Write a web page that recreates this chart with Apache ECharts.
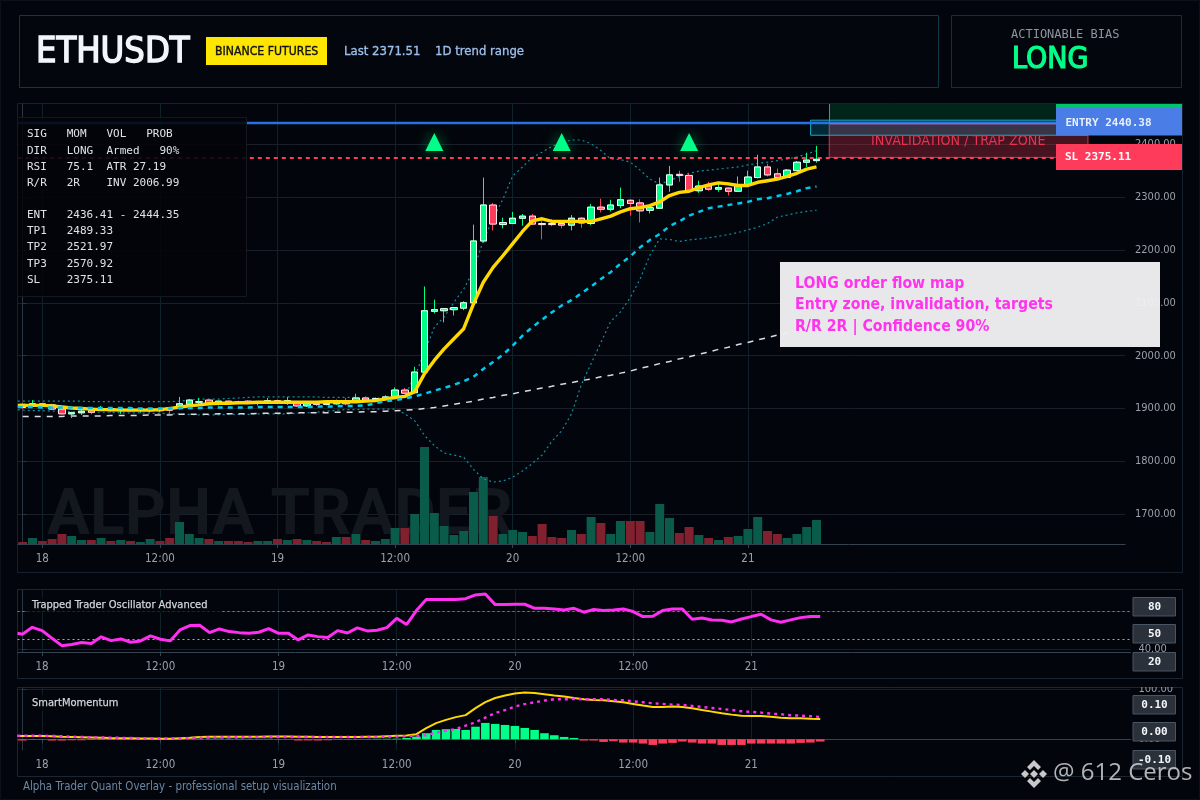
<!DOCTYPE html>
<html><head><meta charset="utf-8">
<style>html,body{margin:0;padding:0;background:#02050b}#c{width:1200px;height:800px}</style>
<script src="https://cdn.jsdelivr.net/npm/echarts@6/dist/echarts.min.js"></script>
</head><body><div id="c"></div>
<script>
const symbolName='ETHUSDT';
const opens=[1908,1905,1909,1907,1899,1890,1892,1896,1898,1900,
1897,1899,1897,1899,1896,1900,1900,1908,1912,1916,
1908,1914,1913,1914,1911,1912,1915,1913,1910,1905,
1910,1908,1909,1912,1914,1920,1916,1919,1923,1935,
1930,1969,2084,2085,2087,2090,2100,2217,2285,2248,
2250,2260,2264,2250,2250,2250,2247,2260,2250,2281,
2277,2284,2294,2289,2275,2279,2323,2343,2341,2312,
2321,2315,2317,2311,2323,2337,2357,2344,2337,2350,
2366,2369];
const closes=[1902,1909,1906,1899,1890,1892,1895,1893,1900,1896,
1899,1897,1899,1896,1899,1897,1909,1916,1913,1909,
1914,1911,1911,1911,1913,1915,1913,1915,1905,1909,
1908,1910,1914,1909,1920,1916,1919,1922,1935,1929,
1969,2085,2087,2089,2091,2100,2217,2285,2249,2252,
2260,2264,2249,2248,2248,2247,2260,2251,2281,2277,
2285,2295,2288,2274,2280,2323,2342,2341,2312,2321,
2315,2318,2311,2322,2338,2357,2342,2337,2351,2366,
2370,2371.51];
const lows=[1899,1903,1904,1897,1889,1882,1888,1889,1895,1893,
1890,1893,1892,1892,1893,1890,1898,1906,1906,1907,
1906,1908,1908,1908,1906,1909,1911,1907,1903,1903,
1905,1906,1907,1906,1912,1913,1913,1917,1922,1928,
1929,1964,2080,2063,2076,2086,2099,2214,2237,2241,
2249,2246,2247,2220,2245,2241,2237,2242,2247,2271,
2273,2279,2265,2252,2269,2279,2310,2329,2311,2308,
2312,2310,2303,2311,2322,2335,2339,2336,2336,2350,
2357,2365];
const highs=[1910,1916,1911,1909,1900,1894,1898,1898,1905,1901,
1901,1900,1901,1901,1902,1901,1922,1918,1920,1917,
1915,1915,1915,1916,1914,1920,1917,1922,1912,1911,
1912,1912,1917,1920,1928,1923,1921,1925,1940,1939,
1979,2131,2106,2090,2092,2103,2248,2337,2289,2261,
2272,2268,2268,2255,2258,2251,2266,2262,2287,2297,
2295,2318,2296,2296,2285,2337,2359,2350,2346,2331,
2329,2325,2318,2339,2350,2380,2363,2354,2353,2368,
2384,2397];
const emaFast=[1906,1906,1906,1905,1903,1901,1900,1899,1898,1898,
1897,1897,1897,1897,1898,1900,1903,1905,1907,1909,
1910,1910,1911,1911,1912,1912,1912,1912,1912,1912,
1912,1913,1913,1913,1913,1914,1915,1918,1921,1923,
1932,1966,1991,2013,2032,2051,2098,2139,2167,2189,
2212,2235,2255,2259,2254,2254,2254,2254,2254,2259,
2264,2272,2278,2280,2284,2291,2303,2309,2311,2318,
2323,2327,2325,2322,2322,2328,2331,2334,2339,2345,
2353,2357];
const emaMid=[1903,1903,1902,1902,1902,1902,1901,1901,1901,1901,
1901,1901,1900,1900,1900,1900,1901,1901,1901,1902,
1902,1902,1902,1902,1903,1903,1903,1903,1903,1903,
1904,1904,1904,1905,1905,1906,1910,1914,1916,1919,
1923,1928,1934,1939,1945,1952,1960,1975,1988,2002,
2019,2038,2054,2068,2082,2095,2105,2118,2131,2145,
2158,2174,2188,2205,2219,2230,2245,2254,2265,2272,
2279,2282,2285,2288,2291,2296,2298,2302,2306,2311,
2317,2320];
const emaSlow=[1885,1885,1885,1885,1885,1886,1886,1886,1886,1887,
1887,1887,1887,1888,1888,1888,1889,1889,1889,1889,
1890,1890,1890,1890,1891,1891,1891,1891,1892,1892,
1892,1892,1893,1893,1893,1894,1894,1895,1896,1897,
1898,1900,1902,1905,1908,1911,1914,1918,1921,1925,
1928,1932,1935,1939,1942,1946,1949,1953,1956,1960,
1963,1967,1971,1976,1980,1985,1989,1994,1998,2003,
2007,2012,2016,2021,2025,2030,2034,2039,2043,2047,
2051,2055];
const bandUpper=[1914,1914,1914,1914,1914,1914,1914,1913,1913,1913,
1913,1913,1913,1913,1913,1913,1914,1916,1918,1918,
1918,1919,1920,1921,1922,1922,1922,1922,1922,1922,
1922,1921,1921,1921,1921,1920,1920,1920,1921,1925,
1960,2007,2054,2073,2101,2126,2161,2218,2259,2296,
2340,2357,2375,2385,2396,2403,2408,2408,2401,2388,
2372,2371,2366,2351,2334,2325,2331,2339,2345,2349,
2351,2353,2355,2357,2361,2364,2366,2369,2372,2376,
2381,2388];
const bandLower=[1897,1896,1896,1895,1895,1894,1894,1893,1893,1893,
1892,1892,1892,1891,1891,1890,1890,1889,1888,1888,
1888,1889,1889,1889,1890,1890,1890,1890,1891,1892,
1893,1895,1897,1898,1898,1899,1899,1899,1899,1890,
1877,1849,1830,1816,1812,1808,1785,1767,1761,1763,
1770,1782,1796,1812,1838,1858,1890,1945,1985,2025,
2065,2083,2110,2145,2190,2221,2220,2216,2219,2221,
2223,2226,2229,2233,2238,2243,2250,2262,2266,2270,
2273,2275];
const volumes=[200,600,300,500,1000,800,400,400,600,300,
400,300,200,500,300,600,2200,1000,600,500,
300,300,300,200,300,300,500,400,500,400,
300,200,700,700,1000,400,300,500,1600,1600,
3000,9700,3100,1800,900,1300,5200,6700,2800,1000,
1400,1200,800,2000,700,600,1400,1000,2700,2100,
1000,2300,2300,2300,1200,4000,2600,1100,1700,900,
600,400,700,800,1500,2700,1300,1000,600,1000,
1700,2400];
const volumeSides=['d','u','d','d','d','u','u','d','u','d',
'u','d','u','u','d','d','u','u','u','d',
'u','d','d','d','u','u','d','u','d','u',
'd','d','u','d','u','d','u','u','u','d',
'u','u','u','u','u','u','u','u','d','u',
'u','u','d','d','d','d','u','d','u','d',
'u','u','d','d','u','u','u','d','d','u',
'd','u','d','u','u','u','d','d','u','u',
'u','u'];
const oscillator=[55.7,63,59.5,51.5,43.7,45,47,46,53,49,
50.8,47.3,48.7,54,50.4,48.7,60.2,64.8,65.2,57.4,
61.3,58.5,57.4,56.7,57.8,61.7,56.7,56.7,49.7,55,
53.2,52.2,59.5,57,62.4,59.2,59.9,62.7,72.5,65.9,
80.6,92.2,92.2,92.2,92.2,93.2,97.1,98.2,86.9,86.9,
87.3,87.3,83,83,82.3,81.3,83,78.9,81.7,80.6,
81.3,82.3,79.6,74.3,74.6,80.6,82.3,82.3,71.5,72.9,
70.8,70.4,68.7,71.8,74.3,76.7,70.8,68.3,70.8,73.2,
74.3,74.3];
const momentumHist=[-2.5,-1,-0.8,-2.5,-2.5,-2,-2,-1.5,-1.5,-1.5,
-1,-1,-1,-0.5,-0.5,-0.5,0.5,1,1,1,
1.2,1,1,0.8,0.8,0.8,0.5,0.5,-2.5,-2.3,
-2.5,-2,-1,-1,0.5,0.5,1,1,1.2,2.6,
5.3,12,18.5,20,20.5,18.5,25,32.5,30.5,28.5,
26.5,22.5,18.5,12,8,4.6,2.6,-2.6,-2.6,-5.3,
-4,-6.6,-6.6,-8.6,-11.3,-8.6,-7.3,-4.6,-6.6,-8.6,
-8.6,-11.3,-11.3,-11.3,-8.6,-8.6,-8.6,-8.6,-8.6,-7.3,
-6.6,-4.6];
const momentumFast=[6.6,6.6,6.6,6,5,4.5,4,3.5,3,2.5,
2.2,2,1.5,1.3,1,0.8,2,3,4.5,5,
5,5,5,5,5,5.5,5.5,5.5,5,5,
4.5,4.5,4.5,4.5,4.5,5,5,6,7,7.5,
10,22,32,38.5,44,48,62,74,82,87,
91,93,92,89.5,87,85,82,79.6,78,77.6,
75.6,73.6,70.3,67,64.3,64.3,65,64.3,61.7,58.3,
55,51.7,49,47,46.4,46.4,45,43,41.8,41.8,
41,40.4];
const momentumSignal=[7,7,7,6.5,6,5,4.5,4,3.5,3,
2.8,2.5,2,1.8,1.5,1.5,2,2.5,3,3.5,
3.8,4,4,4.2,4.2,4.5,4.5,4.5,4.5,4.5,
4.5,4.5,4.5,4.5,4.5,4.5,4.8,5,5.5,6,
7,8,13,17,20.5,27,34,43,52,58,
65,70,73.6,77,79.6,79.6,80,79.6,79.6,79.6,
78,77.6,75.6,73.6,71.6,70.3,69,68.3,66.3,64.3,
62.3,60.3,58.3,55.7,54.4,53,51,49.7,47.7,47,
45.7,44.4];
const signalIdx=[42,55,68];
const signalPrice=2404;
const entryPrice=2440.38, stopPrice=2375.11;
const priceTicks=[1700,1800,1900,2000,2100,2200,2300,2400];
const oscTicks=[40,80], oscLevels=[80,50];
const momTicks=[0,100];
const tableLines=['SIG   MOM   VOL   PROB','DIR   LONG  Armed   90%','RSI   75.1  ATR 27.19','R/R   2R    INV 2006.99','',
'ENT   2436.41 - 2444.35','TP1   2489.33','TP2   2521.97','TP3   2570.92','SL    2375.11'];
const noteLines=['LONG order flow map','Entry zone, invalidation, targets','R/R 2R | Confidence 90%'];
const categories=[];
for(let k=0;k<113;k++){const t=k-2+24*18;const d=Math.floor(t/24),h=t%24;categories.push(d+' '+String(h).padStart(2,'0')+':00');}
const LAST_TICK=74;
const isTick=(i,v)=>i<=LAST_TICK&&(v.endsWith(' 00:00')||v.endsWith(' 12:00'));
const tickText=v=>v.endsWith(' 00:00')?v.slice(0,2):v.endsWith(' 12:00')?'12:00':'';
const withLead=(arr,lead)=>[[-0.5,lead]].concat(arr.map((v,i)=>[i,v]));

const UI='"DejaVu Sans Condensed","DejaVu Sans",sans-serif', MONO='"DejaVu Sans Mono",monospace';
const UP='#00ff88',DOWN='#ff3b5c',TXT='#9aa1aa',BG='#02050b';
const xBase=(g)=>({type:'category',gridIndex:g,data:categories,boundaryGap:true,
  axisLine:{lineStyle:{color:'#36424f'}},
  axisTick:{show:true,alignWithLabel:true,interval:isTick,length:4,lineStyle:{color:'#36424f'}},
  axisLabel:{show:true,interval:isTick,formatter:tickText,color:TXT,fontFamily:UI,fontSize:11.5,margin:9,hideOverlap:false},
  splitLine:{show:true,alignWithLabel:true,interval:isTick,lineStyle:{color:'#0e2128',width:1}}});
const xOverlay=(g)=>({type:'value',gridIndex:g,min:-0.5,max:112.5,show:false,splitLine:{show:false}});
const yBase=(g,min,max,ticks,offset)=>({type:'value',gridIndex:g,position:'right',min,max,offset:offset||0,
  axisLine:{show:true,lineStyle:{color:'#2a3644'}},
  axisTick:{show:true,customValues:ticks,length:4,lineStyle:{color:'#2a3644'}},
  axisLabel:{show:true,customValues:ticks,formatter:v=>v.toFixed(2),color:TXT,fontFamily:UI,fontSize:11,margin:8,padding:[2,0,0,0]},
  splitLine:{show:true,customValues:ticks,lineStyle:{color:'#1a1f27',width:1}}});

const candleData=opens.map((o,i)=>[o,closes[i],lows[i],highs[i]]);
const bodyData=opens.map((o,i)=>[o,closes[i],Math.min(o,closes[i]),Math.max(o,closes[i])]);
const volData=volumes.map((v,i)=>({value:v,itemStyle:{color:volumeSides[i]==='u'?'#0b5b4b':'#812130'}}));
const histData=momentumHist.map(v=>({value:v,itemStyle:{color:v>=0?UP:DOWN}}));
const ln=(name,data,xi,yi,color,width,type,z)=>({name,type:'line',data,xAxisIndex:xi,yAxisIndex:yi,showSymbol:false,symbol:'none',silent:true,z:z||5,
  lineStyle:{color,width,type:type||'solid'}});

const T=(text,x,y,fill,font,extra)=>({type:'text',z:120,silent:true,style:Object.assign({text,x,y,fill,font,textAlign:'left',textVerticalAlign:'middle'},extra||{})});
const R=(x,y,w,h,fill,stroke,z,lw)=>({type:'rect',z:z==null?110:z,silent:true,shape:{x,y,width:w,height:h},style:{fill:fill||'transparent',stroke:stroke||'transparent',lineWidth:lw||1}});
const P=(points,fill)=>({type:'polygon',z:120,silent:true,shape:{points},style:{fill}});

const graphics=[
  R(0.5,0.5,1199,799,null,'#0b111b',0),
  R(19.5,15.5,919,72,'#03060c','#0f3a44',1),
  R(951.5,15.5,230,72,'#03060c','#3f1650',1),
  T(symbolName,36,53,'#f2f6fa','36px '+UI,{stroke:'#f2f6fa',lineWidth:1.4,shadowBlur:12,shadowColor:'rgba(170,220,255,.45)'}),
  R(206,37,121,28,'#ffe600',null),
  T('BINANCE FUTURES',215,52,'#111','12.2px '+UI,{stroke:'#111',lineWidth:.35}),
  T('Last 2371.51',344,52,'#9dc0ee','13px '+UI,{stroke:'#9dc0ee',lineWidth:.3}),
  T('1D trend range',435,52,'#9dc0ee','13px '+UI,{stroke:'#9dc0ee',lineWidth:.3}),
  T('ACTIONABLE BIAS',1011,35,'#8c95a0',"12px "+MONO),
  T('LONG',1012,60,UP,'30px '+UI,{stroke:UP,lineWidth:1.2,shadowBlur:12,shadowColor:'rgba(0,255,136,.45)'}),
  R(17.5,103.5,1165,469,null,'#16202c',0),
  R(17.5,589.5,1165,89,null,'#1b2632',0),
  R(17.5,687.5,1165,89,null,'#1b2632',0),
  {type:'text',z:1,silent:true,style:{text:'ALPHA TRADER',x:47,y:518,fill:'#13171e',font:'bold 64px Roboto,sans-serif',textVerticalAlign:'middle'}},
  R(17.5,117.5,229,179,'rgba(2,4,9,.88)','#14181f',110),
  ...tableLines.map((s,i)=>T(s,27,134.5+16.15*i,'#dfe3e8','11px '+MONO)),
  T('INVALIDATION / TRAP ZONE',871,141,'#e8324f','14.2px '+UI),
  R(1056,104,126,6,'#00c46a',null),
  R(1056,108,126,27.5,'#4a7de6',null),
  T('ENTRY 2440.38',1065.5,123,'#e8f0fc','bold 11px '+MONO),
  R(1056,144,126,26,DOWN,null),
  T('SL 2375.11',1065,157,'#ffffff','bold 11px '+MONO),
  R(780,262,380,85,'rgba(240,240,243,.97)',null),
  ...noteLines.map((s,i)=>T(s,795,284+21.3*i,'#ff33ee','bold 15.7px '+UI)),
  R(27,597,194,16,'rgba(3,5,9,.7)',null),
  T('Trapped Trader Oscillator Advanced',32,605,'#d2d6dc','11px '+UI,{stroke:'#d2d6dc',lineWidth:.25}),
  R(27,695,98,16,'rgba(3,5,9,.7)',null),
  T('SmartMomentum',32,703,'#d2d6dc','11px '+UI,{stroke:'#d2d6dc',lineWidth:.25}),
  R(1133,679,49,8,BG,null,115),
  ...[['80',1133,597.5],['50',1133,624.5],['20',1133,652.5],['0.10',1133,695.5],['0.00',1133,722.5],['-0.10',1133,750.5]].flatMap(a=>[
    R(a[1],a[2],42.5,18.5,'#2a313b','#4a5563'),
    T(a[0],a[1]+21.5,a[2]+9.5,'#f4f6f8','bold 11px '+MONO,{textAlign:'center'})]),
  T('Alpha Trader Quant Overlay - professional setup visualization',23,787,'#6d87a3','11.4px '+UI),
  P([[1034,760],[1041,767],[1038,770],[1034,766],[1030,770],[1027,767]],'#c9c9c9'),
  P([[1034,788],[1041,781],[1038,778],[1034,782],[1030,778],[1027,781]],'#c9c9c9'),
  P([[1034,770],[1038,774],[1034,778],[1030,774]],'#c9c9c9'),
  P([[1025,770],[1029,774],[1025,778],[1021,774]],'#c9c9c9'),
  P([[1043,770],[1047,774],[1043,778],[1039,774]],'#c9c9c9'),
  T('@ 612 Ceros',1053,773,'rgba(222,222,222,.8)','24px "Open Sans",sans-serif')
];

const option={
  backgroundColor:BG,animation:false,
  grid:[
    {left:17.8,width:1107.4,top:104,height:440},
    {left:17.5,width:1113,top:590,height:62},
    {left:17.5,width:1113,top:688,height:62}
  ],
  xAxis:[xBase(0),xBase(1),xBase(2),xOverlay(0),xOverlay(1),xOverlay(2)],
  yAxis:[
    yBase(0,1643.8,2476.1,priceTicks,1.8),
    {type:'value',gridIndex:0,min:0,max:44000,show:false,splitLine:{show:false}},
    yBase(1,37,102.3,oscTicks),
    yBase(2,-21.4,102,momTicks)
  ],
  graphic:{elements:graphics},
  series:[
    {type:'bar',name:'Volume',data:volData,xAxisIndex:0,yAxisIndex:1,barWidth:9,silent:true,z:3},
    ln('BB upper',withLead(bandUpper,1914),3,0,'#118fa3',1.2,[2,3],4),
    ln('BB lower',withLead(bandLower,1898),3,0,'#118fa3',1.2,[2,3],4),
    ln('Slow',emaSlow,0,0,'#d9dde2',1.5,[6,6],4),
    {type:'line',name:'Levels',data:[],xAxisIndex:3,yAxisIndex:0,silent:true,z:4,
      markArea:{silent:true,data:[
        [{xAxis:82.3,yAxis:entryPrice,itemStyle:{color:'rgba(0,255,136,.13)',borderWidth:0}},{xAxis:108.7,yAxis:2476.1}],
        [{xAxis:82.3,yAxis:stopPrice,itemStyle:{color:'rgba(255,59,92,.27)',borderColor:'#d8324f',borderWidth:1}},{xAxis:108.7,yAxis:2438}],
        [{xAxis:80.4,yAxis:2417,itemStyle:{color:'rgba(0,190,225,.2)',borderColor:'#18a8c4',borderWidth:1}},{xAxis:108.7,yAxis:2445.5}]
      ]},
      markLine:{silent:true,symbol:'none',label:{show:false},data:[
        {yAxis:entryPrice,lineStyle:{color:'#2a6fe6',width:2.4,type:'solid'}},
        {yAxis:stopPrice,lineStyle:{color:DOWN,width:2,type:[4,4]}},
        [{xAxis:82.3,yAxis:entryPrice,lineStyle:{color:'#00c070',width:1,type:'solid'}},{xAxis:82.3,yAxis:2476.1}],
        [{xAxis:82.3,yAxis:2439,lineStyle:{color:'#00c070',width:1,type:'solid'}},{xAxis:108.7,yAxis:2439}]
      ]}},
    {type:'candlestick',name:'Wicks',data:candleData,xAxisIndex:0,yAxisIndex:0,barWidth:6,silent:true,z:6,
      itemStyle:{color:UP,color0:DOWN,borderColor:UP,borderColor0:DOWN,borderWidth:1}},
    {type:'candlestick',name:'Bodies',data:bodyData,xAxisIndex:0,yAxisIndex:0,barWidth:7,silent:true,z:7,
      itemStyle:{color:UP,color0:DOWN,borderColor:'#f2fff8',borderColor0:'#ffe8ec',borderWidth:1}},
    ln('Fast',withLead(emaFast,1906),3,0,'#ffd800',3.4,'solid',8),
    ln('Mid',withLead(emaMid,1903),3,0,'#00c8ee',2.5,[5,5],9),
    {type:'scatter',name:'Signals',data:signalIdx.map(i=>[i,signalPrice]),xAxisIndex:0,yAxisIndex:0,symbol:'triangle',symbolSize:[18,18],silent:true,z:10,
      itemStyle:{color:UP,opacity:1,shadowBlur:14,shadowColor:'rgba(0,255,136,.45)'}},
    Object.assign(ln('Oscillator',withLead(oscillator,56.7),4,2,'#ff2ef0',3,'solid',6),{
      markLine:{silent:true,symbol:'none',label:{show:false},data:[
        {yAxis:oscLevels[0],lineStyle:{color:'#ff2ef0',width:1,type:[2,3]}},
        {yAxis:oscLevels[1],lineStyle:{color:'#00ff99',width:1,type:[2,3]}}]}}),
    {type:'bar',name:'Hist',data:histData,xAxisIndex:2,yAxisIndex:3,barWidth:8.6,silent:true,z:4},
    ln('MomFast',withLead(momentumFast,6.6),5,3,'#ffd800',2,'solid',5),
    ln('MomSignal',withLead(momentumSignal,7),5,3,'#ff2ef0',2.4,[3,4],6)
  ]
};
const chart=echarts.init(document.getElementById('c'),null,{renderer:'canvas',width:1200,height:800});
chart.setOption(option);
</script></body></html>
